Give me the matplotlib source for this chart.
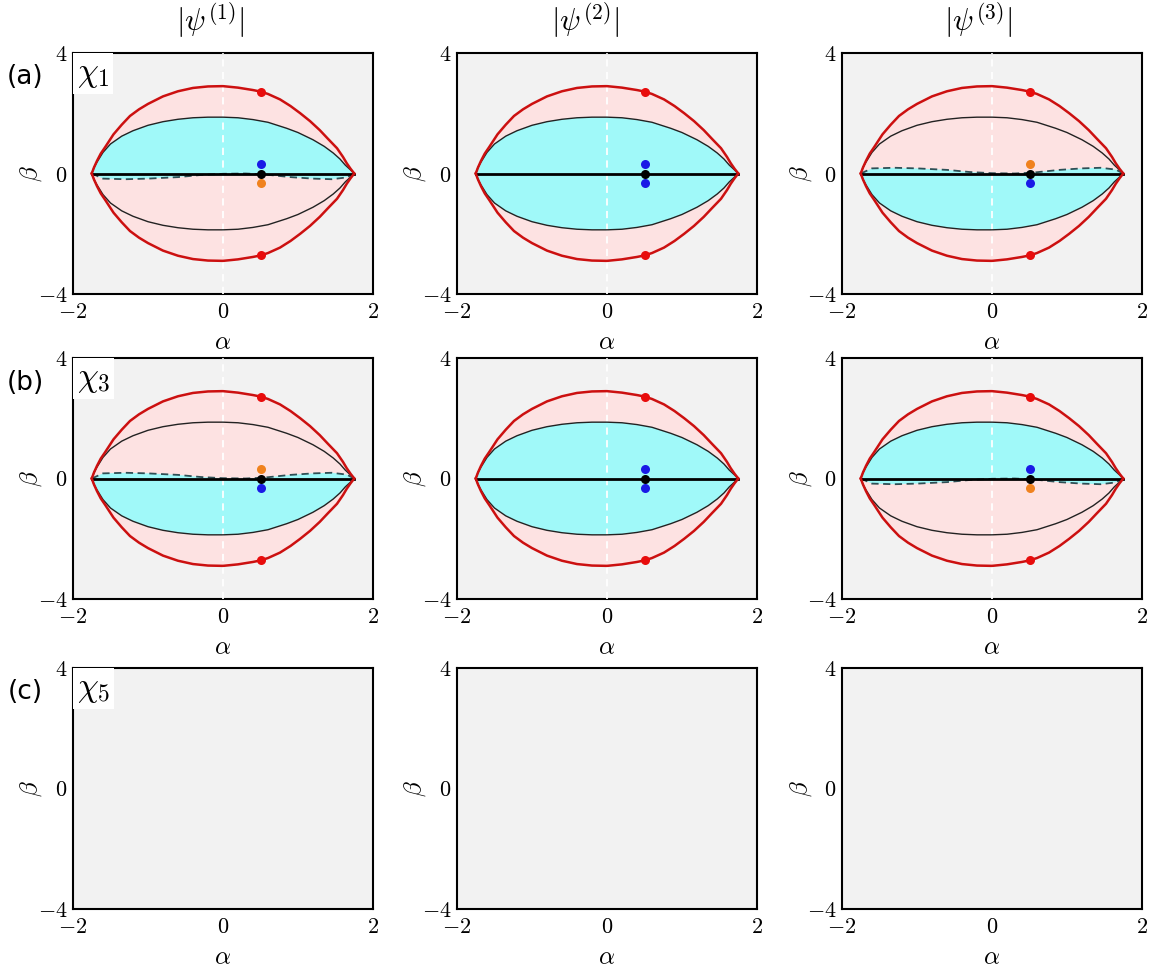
import matplotlib
matplotlib.use("Agg")
import matplotlib.pyplot as plt
import numpy as np

plt.rcParams["mathtext.fontset"] = "cm"
plt.rcParams["font.family"] = ["DejaVu Sans"]

# ---- data ----
# outer (red) boundary, upper half
ALPHA_RED = [-1.75, -1.72, -1.68, -1.63, -1.57, -1.46, -1.35, -1.24, -1.12, -1.0, -0.8, -0.6, -0.4,
             -0.2, 0.0, 0.2, 0.4, 0.5, 0.6, 0.76, 0.9, 1.03, 1.16, 1.29, 1.4, 1.52, 1.6, 1.65, 1.7, 1.75]
BETA_RED = [0.0, 0.2, 0.42, 0.66, 0.88, 1.30, 1.62, 1.91, 2.13, 2.31, 2.56, 2.73, 2.84,
            2.89, 2.90, 2.85, 2.77, 2.72, 2.64, 2.46, 2.24, 2.0, 1.74, 1.44, 1.15, 0.84, 0.55, 0.34, 0.16, 0.0]
# inner (black) boundary, upper half
ALPHA_BLK = [-1.75, -1.72, -1.68, -1.6, -1.5, -1.35, -1.2, -1.0, -0.8, -0.6, -0.4, -0.2, 0.0,
             0.2, 0.4, 0.6, 0.85, 1.0, 1.2, 1.35, 1.47, 1.56, 1.63, 1.7, 1.75]
BETA_BLK = [0.0, 0.2, 0.38, 0.70, 0.98, 1.24, 1.42, 1.60, 1.72, 1.80, 1.85, 1.87, 1.87,
            1.85, 1.79, 1.70, 1.50, 1.36, 1.12, 0.90, 0.68, 0.48, 0.28, 0.12, 0.0]
# dashed curve, drawn below the axis (flipped in the mirrored panels)
ALPHA_DASH = [-1.75, -1.6, -1.3, -1.0, -0.6, -0.3, 0.0, 0.3, 0.55, 0.9, 1.2, 1.45, 1.65, 1.75]
BETA_DASH = [0.0, -0.17, -0.19, -0.17, -0.12, -0.05, -0.01, 0.0, -0.03, -0.12, -0.17, -0.19, -0.13, 0.0]

ALPHA_EP = 0.5        # marked alpha
BETA_EP_RED = 2.72    # red marker height
BETA_EP_SPLIT = 0.3   # blue / orange marker offset

COL_TITLES = [r"$|\psi^{(1)}|$", r"$|\psi^{(2)}|$", r"$|\psi^{(3)}|$"]
ROW_TAGS = ["(a)", "(b)", "(c)"]
ROW_CHI = [r"$\chi_1$", r"$\chi_3$", r"$\chi_5$"]
X_TICKS = [-2, 0, 2]
X_TICK_LABELS = [r"$-2$", r"$0$", r"$2$"]
Y_TICKS = [-4, 0, 4]
Y_TICK_LABELS = [r"$-4$", r"$0$", r"$4$"]

BLUE = "#1a1ae6"
ORANGE = "#f0821e"
# (row, col): cyan region, dashed curve side, marker colour above / below
PANELS = {
    (0, 0): ("upper", -1, BLUE, ORANGE),
    (0, 1): ("full", 0, BLUE, BLUE),
    (0, 2): ("lower", 1, ORANGE, BLUE),
    (1, 0): ("lower", 1, ORANGE, BLUE),
    (1, 1): ("full", 0, BLUE, BLUE),
    (1, 2): ("upper", -1, BLUE, ORANGE),
}

BG = "#f2f2f2"
PINK = "#fde2e2"
CYAN = "#a0f9f9"
RED = "#cc1010"
DASH_C = "#2e4f55"

W, H = 1152, 967
fig = plt.figure(figsize=(W / 100, H / 100), dpi=100)

col_left = [73, 457, 842]
row_top = [53, 358, 668]
ax_w, ax_h = 300, 241
title_x = [210, 585, 978]
tag_y = [77, 383, 692]

ar, br = np.array(ALPHA_RED), np.array(BETA_RED)
ab, bb = np.array(ALPHA_BLK), np.array(BETA_BLK)
ad, bd = np.array(ALPHA_DASH), -np.array(BETA_DASH)   # bd >= 0

for r in range(3):
    for c in range(3):
        ax = fig.add_axes([col_left[c] / W, 1 - (row_top[r] + ax_h) / H, ax_w / W, ax_h / H])
        ax.set_facecolor(BG)
        ax.set_xlim(-2, 2)
        ax.set_ylim(-4, 4)
        ax.set_xticks(X_TICKS)
        ax.set_xticklabels(X_TICK_LABELS)
        ax.set_yticks(Y_TICKS)
        ax.set_yticklabels(Y_TICK_LABELS)
        ax.tick_params(axis="both", length=0, labelsize=16)
        ax.tick_params(axis="x", pad=6)
        ax.tick_params(axis="y", pad=4)
        for s in ax.spines.values():
            s.set_linewidth(1.5)
        ax.set_xlabel(r"$\alpha$", fontsize=18)
        ax.set_ylabel(r"$\beta$", fontsize=18)
        ax.xaxis.set_label_coords(0.5, -0.15)
        ax.yaxis.set_label_coords(-0.095, 0.5)

        if (r, c) in PANELS:
            mode, side, c_up, c_dn = PANELS[(r, c)]
            dash_y = side * bd
            # pink lens
            ax.fill(np.concatenate([ar, ar[::-1]]), np.concatenate([br, -br[::-1]]),
                    color=PINK, lw=0, zorder=1)
            # cyan part
            if mode == "full":
                cx = np.concatenate([ab, ab[::-1]])
                cy = np.concatenate([bb, -bb[::-1]])
            elif mode == "upper":
                cx = np.concatenate([ab, ad[::-1]])
                cy = np.concatenate([bb, dash_y[::-1]])
            else:
                cx = np.concatenate([ad, ab[::-1]])
                cy = np.concatenate([dash_y, -bb[::-1]])
            ax.fill(cx, cy, color=CYAN, lw=0, zorder=2)
            ax.axvline(0, color="white", ls=(0, (4, 3)), lw=1.3, zorder=3)
            ax.plot(ab, bb, color="#222222", lw=1.0, zorder=4)
            ax.plot(ab, -bb, color="#222222", lw=1.0, zorder=4)
            if side != 0:
                ax.plot(ad, dash_y, color=DASH_C, lw=1.3, ls=(0, (4, 2.5)), zorder=4)
            ax.plot([ar[0], ar[-1]], [0, 0], color="black", lw=2.0, zorder=5)
            ax.plot(ar, br, color=RED, lw=1.8, zorder=5)
            ax.plot(ar, -br, color=RED, lw=1.8, zorder=5)
            ax.plot([ALPHA_EP, ALPHA_EP], [BETA_EP_RED, -BETA_EP_RED], "o", color="#e80c0c",
                    ms=6.5, mec="none", zorder=6)
            ax.plot([ALPHA_EP], [BETA_EP_SPLIT], "o", color=c_up, ms=6.5, mec="none", zorder=6)
            ax.plot([ALPHA_EP], [-BETA_EP_SPLIT], "o", color=c_dn, ms=6.5, mec="none", zorder=6)
            ax.plot([ALPHA_EP], [0], "o", color="black", ms=6.5, mec="none", zorder=7)

        if c == 0:
            ax.text(0.012, 0.985, ROW_CHI[r], transform=ax.transAxes, fontsize=24,
                    ha="left", va="top", zorder=10,
                    bbox=dict(boxstyle="square,pad=0.12", facecolor="white", edgecolor="none"))
            fig.text(25 / W, 1 - tag_y[r] / H, ROW_TAGS[r], fontsize=19, ha="center", va="center")

for c in range(3):
    fig.text(title_x[c] / W, 1 - 20 / H, COL_TITLES[c], fontsize=22, ha="center", va="center")

fig.savefig("out.png", dpi=100, facecolor="white")
